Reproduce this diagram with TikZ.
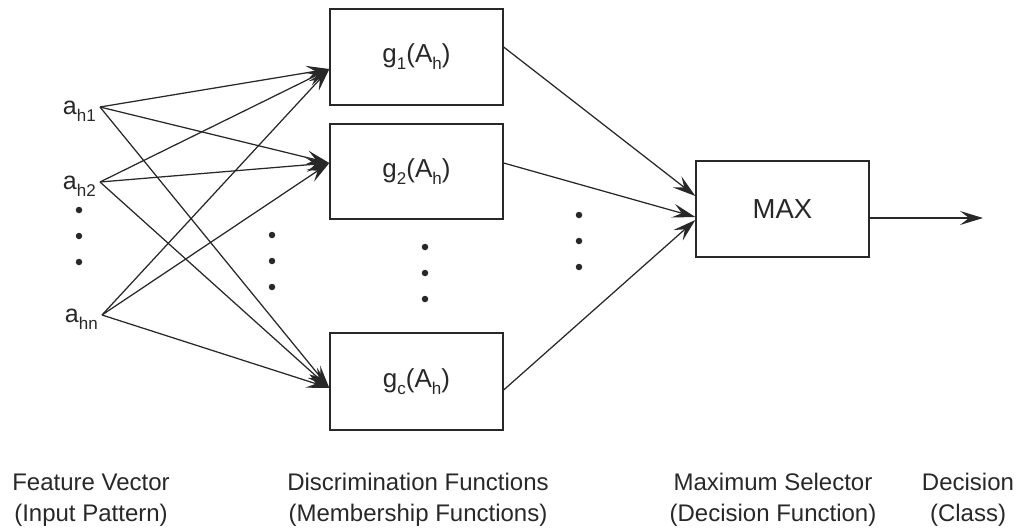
\documentclass[tikz,border=0pt]{standalone}
\usepackage{fontspec}
\setmainfont{Liberation Sans}
\usetikzlibrary{arrows.meta,calc}

% lowered subscript in a fixed small size
\newcommand{\lsub}[1]{\raisebox{-0.27em}{\fontsize{17}{17}\selectfont #1}}

\definecolor{ink}{RGB}{40,40,40}

\tikzset{
  fbox/.style={draw=ink, line width=1.3pt, minimum width=173pt, minimum height=96pt,
               inner sep=0pt, text=ink, font=\fontsize{26}{30}\selectfont},
  link/.style={draw=ink, line width=1.25pt, -{Stealth[length=23pt,width=14pt,inset=9pt]}},
  caption/.style={align=center, text=ink, font=\fontsize{24}{31}\selectfont},
  inlabel/.style={anchor=east, inner sep=1pt, text=ink, font=\fontsize{25}{30}\selectfont},
  pt/.style={fill=ink, circle, inner sep=0pt, minimum size=6.5pt},
}

\begin{document}
\begin{tikzpicture}[x=1pt, y=-1pt]
\useasboundingbox (0,0) rectangle (1029,531);

% discrimination boxes and the selector
\node[fbox] (g1) at (416.5,57) {g\lsub{1}(A\lsub{h})};
\node[fbox, minimum height=95pt] (g2) at (416.5,171.5) {g\lsub{2}(A\lsub{h})};
\node[fbox, minimum height=97pt] (gc) at (416.5,381.5) {g\lsub{c}(A\lsub{h})};
\node[fbox, font=\fontsize{27.5}{30}\selectfont] (mx) at (782.5,209) {MAX};

% feature vector components
\coordinate (a1) at (100,107);
\coordinate (a2) at (100,182);
\coordinate (an) at (102,315);
\node[inlabel] (la1) at (97,111) {a\lsub{h1}};
\node[inlabel] (la2) at (97,186) {a\lsub{h2}};
\node[inlabel] (lan) at (99,319) {a\lsub{hn}};

% entry points on the boxes
\coordinate (t1) at ($(g1.west)+(0,12)$);
\coordinate (t2) at ($(g2.west)+(0,-8.5)$);
\coordinate (tc) at ($(gc.west)+(0,6.5)$);

\foreach \s in {a1,a2,an}
  \foreach \t in {t1,t2,tc}
    \draw[link] (\s) -- (\t);

% box outputs into the selector
\coordinate (o1) at ($(g1.east)+(0,-10)$);
\coordinate (o2) at ($(g2.east)+(0,-8.5)$);
\coordinate (oc) at ($(gc.east)+(0,8.5)$);
\coordinate (m1) at ($(mx.west)+(0,-13)$);
\coordinate (m2) at ($(mx.west)+(0,8)$);
\coordinate (m3) at ($(mx.west)+(0,11)$);
\draw[link] (o1) -- (m1);
\draw[link] (o2) -- (m2);
\draw[link] (oc) -- (m3);

% decision output
\coordinate (mo) at ($(mx.east)+(0,9)$);
\coordinate (dec) at (983,218);
\draw[link] (mo) -- (dec);

% ellipsis dots
\foreach \y [count=\i] in {210,236,262} \node[pt] (d1\i) at (79,\y) {};
\foreach \y [count=\i] in {235,261,287} \node[pt] (d2\i) at (272,\y) {};
\foreach \y [count=\i] in {247,273,299} \node[pt] (d3\i) at (425,\y) {};
\foreach \y [count=\i] in {215,241,267} \node[pt] (d4\i) at (579,\y) {};

% column captions
\node[caption] (c1) at (91,500) {Feature Vector\\(Input Pattern)};
\node[caption] (c2) at (418,500) {Discrimination Functions\\(Membership Functions)};
\node[caption] (c3) at (773,500) {Maximum Selector\\(Decision Function)};
\node[caption] (c4) at (968,500) {Decision\\(Class)};
\end{tikzpicture}
\end{document}
